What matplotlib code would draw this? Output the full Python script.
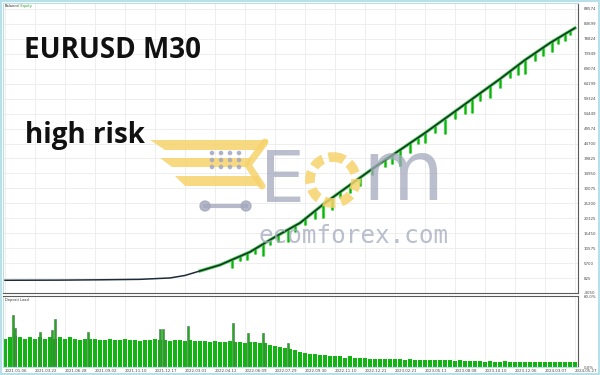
import matplotlib.pyplot as plt
import numpy as np
from matplotlib.patches import Circle, Polygon, Rectangle

# balance curve (trade number, balance)
balance_trade = [4, 114, 194, 274, 334, 364, 394, 434, 494, 544, 594, 644, 694,
                 744, 794, 844, 894, 944, 994, 1044, 1094, 1144]
balance_value = [100, 150, 250, 400, 850, 1670, 3140, 5090, 9330, 14220, 18790,
                 25310, 31180, 37050, 42590, 48140, 54000, 59880, 65750, 71940,
                 77490, 82380]

# equity drawdowns below the balance line
eq_trade = [458, 474, 488, 504, 520, 534, 550, 570, 584, 604, 624, 640, 658, 674,
            694, 714, 738, 764, 778, 794, 814, 830, 844, 864, 884, 904, 924, 938,
            954, 974, 994, 1014, 1030, 1044, 1064, 1080, 1098, 1110, 1124, 1134]
eq_top = [6723, 8027, 9006, 10310, 11941, 13245, 14875, 16506, 17810, 20093,
          22702, 24658, 26941, 28898, 31180, 33463, 36398, 39333, 40963, 42594,
          44877, 46507, 48138, 50420, 52703, 55312, 57595, 59225, 61182, 63464,
          65747, 68356, 70312, 71943, 74226, 76182, 78139, 79443, 80748, 81726]
eq_low = [4114, 6397, 6723, 8680, 8027, 11614, 12593, 12593, 15854, 18136,
          20093, 20419, 23028, 26941, 28572, 30854, 34441, 37050, 38029, 37376,
          41616, 44551, 44877, 48138, 47812, 52703, 54334, 54660, 58573, 59551,
          62812, 66073, 67051, 67378, 71617, 73247, 74552, 77161, 78139, 80095]

balance_ticks = [88574, 83699, 78824, 73949, 69074, 64199, 59324, 54449, 49574,
                 44700, 39825, 34950, 30075, 25200, 20325, 15450, 10575, 5700,
                 825, -4050]

date_labels = ["2021.01.06", "2021.03.22", "2021.06.28", "2021.09.02",
               "2021.11.10", "2021.12.17", "2022.03.01", "2022.04.12",
               "2022.06.09", "2022.07.29", "2022.09.30", "2022.11.10",
               "2022.12.21", "2023.02.21", "2023.05.11", "2023.08.08",
               "2023.10.10", "2023.12.06", "2024.03.07", "2024.05.27"]

# deposit load, %, one bar per 10 trades
load_value = [24, 25, 26, 25, 24, 25, 24, 25, 24, 25, 24, 25, 24, 25, 24, 23, 24, 24, 24, 23,
              23, 24, 23, 23, 24, 23, 23, 22, 23, 23, 24, 23, 23, 22, 23, 23, 22, 23, 22, 22,
              22, 21, 22, 21, 21, 22, 21, 21, 20, 21, 21, 20,
              20, 19, 18, 17, 16, 15, 14, 13,
              12, 11, 11, 10, 10,
              9, 9, 9, 8, 9, 8, 8, 8,
              7, 7, 7, 7, 7, 7, 7, 6, 7, 6, 6, 6, 6, 6, 6, 6, 6, 5, 6, 5,
              5, 5, 5, 4, 5, 4, 4, 5, 4, 4, 4, 4, 4, 4, 4, 4, 4, 4, 4, 4, 4, 4]
load_spike_trade = [20, 24, 74, 98, 104, 170, 314, 320, 370, 460, 490, 520, 570]
load_spike_value = [44, 33, 30, 31, 41, 30, 32, 32, 35, 37, 29, 29, 20]

GREEN = "#13b313"
LABEL = "#4a4a4a"

fig = plt.figure(figsize=(6, 3.75), dpi=100)
fig.patch.set_facecolor("white")
fig.patches.append(Rectangle((0.002, 0.003), 0.996, 0.994, transform=fig.transFigure,
                             fill=False, edgecolor="#b9dfe9", linewidth=1.5))

date_pos = 4 + 60 * np.arange(len(date_labels))

# balance / equity panel
ax = fig.add_axes([0.005, 0.2187, 0.9583, 0.7733])
ax.set_xlim(0, 1150)
ax.set_ylim(-4050, 90530)
for pos in date_pos:
    ax.axvline(pos, color="#ebebeb", linewidth=0.6, zorder=0)
for val in balance_ticks:
    ax.axhline(val, color="#ebebeb", linewidth=0.6, zorder=0)

# equity only wanders off the balance once trading gets heavy
ax.plot(balance_trade[6:], balance_value[6:], color="#3ccf3c", linewidth=2.3, zorder=1)
ax.vlines(eq_trade, eq_low, eq_top, color="#3fd83f", linewidth=2.2, zorder=2)
ax.vlines(eq_trade, eq_low, eq_top, color="#138f13", linewidth=0.5, zorder=2)
ax.plot(balance_trade, balance_value, color="#1d2c38", linewidth=1.1, zorder=3)

ax.yaxis.tick_right()
ax.set_yticks(balance_ticks)
ax.set_yticklabels([str(v) for v in balance_ticks], fontsize=2.9, color=LABEL)
ax.tick_params(axis="y", length=0, pad=4)
ax.set_xticks([])
for name, spine in ax.spines.items():
    spine.set_color("#5a5a5a" if name in ("right", "bottom") else "#b9dfe9")
    spine.set_linewidth(0.8)
ax.text(0.003, 0.997, "Balance", transform=ax.transAxes, fontsize=2.6,
        color="#333333", va="top")
ax.text(0.026, 0.997, "/ Equity", transform=ax.transAxes, fontsize=2.6,
        color="#2a9a2a", va="top")

# deposit load panel
ax2 = fig.add_axes([0.005, 0.0213, 0.9583, 0.1893])
ax2.set_xlim(0, 1150)
ax2.set_ylim(0, 60)
for pos in date_pos:
    ax2.axvline(pos, color="#ebebeb", linewidth=0.6, zorder=0)
bar_pos = 5 + 10 * np.arange(len(load_value))
ax2.bar(bar_pos, load_value, width=8, color=GREEN, linewidth=0, zorder=2)
ax2.bar(load_spike_trade, load_spike_value, width=2.2, color=GREEN,
        edgecolor="#5d6e5d", linewidth=0.4, zorder=2)

ax2.yaxis.tick_right()
ax2.set_yticks([0, 60])
ax2.set_yticklabels(["0.0%", "60.0%"], fontsize=2.9, color=LABEL)
ax2.tick_params(axis="y", length=0, pad=4)
ax2.set_xticks(date_pos)
ax2.set_xticklabels(date_labels, fontsize=2.9, color=LABEL, ha="left")
ax2.tick_params(axis="x", length=0, pad=1.5)
for name, spine in ax2.spines.items():
    spine.set_color("#5a5a5a" if name in ("right", "top") else "#b9dfe9")
    spine.set_linewidth(0.8)
ax2.text(0.003, 0.97, "Deposit Load", transform=ax2.transAxes, fontsize=2.6,
         color="#333333", va="top")

# overlay: titles and watermark, in pixel coordinates
ov = fig.add_axes([0, 0, 1, 1], zorder=5)
ov.set_xlim(0, 600)
ov.set_ylim(375, 0)
ov.axis("off")

ov.text(24, 58, "EURUSD M30", fontsize=20, fontweight="bold", family="Open Sans",
        color="#111111", va="baseline")
ov.text(25, 143, "high risk", fontsize=20, fontweight="bold", family="Open Sans",
        color="#111111", va="baseline")

yellow = "#f6d36c"
gray = "#a3a8bd"
# cart shape
ov.add_patch(Polygon([[150, 140], [268, 140], [262, 150], [165, 150]],
                     closed=True, color=yellow, alpha=0.85, linewidth=0))
ov.add_patch(Polygon([[160, 158], [252, 158], [248, 167], [172, 167]],
                     closed=True, color=yellow, alpha=0.85, linewidth=0))
ov.add_patch(Polygon([[175, 176], [258, 176], [262, 186], [185, 186]],
                     closed=True, color=yellow, alpha=0.85, linewidth=0))
ov.plot([265, 248, 262], [142, 165, 186], color=yellow, linewidth=5, alpha=0.85,
        solid_capstyle="round")
for i in range(4):
    for j in range(3):
        ov.add_patch(Circle((212 + 9 * i, 153 + 7 * j), 1.6, color=gray, alpha=0.8))
ov.plot([205, 246], [206, 206], color=gray, linewidth=3, alpha=0.8)
ov.add_patch(Circle((205, 206), 5, color=gray, alpha=0.8))
ov.add_patch(Circle((246, 206), 5, color=gray, alpha=0.8))

ov.text(260, 202, "E", fontsize=51, family="DejaVu Sans", color=gray, alpha=0.75,
        va="baseline")
ov.add_patch(Circle((333, 180), 23, fill=False, edgecolor=yellow, linewidth=7,
                    linestyle=(0, (1.2, 0.6)), alpha=0.85))
ov.text(362, 200, "m", fontsize=60, family="DejaVu Sans", color=gray, alpha=0.75,
        va="baseline")
ov.text(258, 243, "ecomforex.com", fontsize=17.5, family="DejaVu Sans Mono",
        color=gray, alpha=0.75, va="baseline")

fig.savefig("out.png", dpi=100)
